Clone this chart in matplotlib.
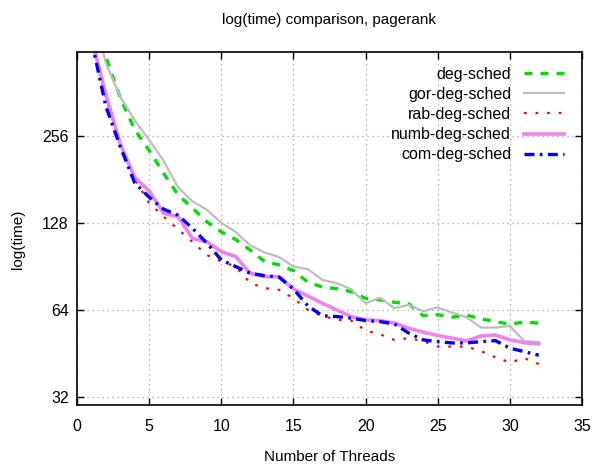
import matplotlib
matplotlib.use('Agg')
import matplotlib.pyplot as plt
from matplotlib.ticker import FixedLocator, NullLocator

plt.rcParams['font.family'] = ['Liberation Sans', 'DejaVu Sans']

threads = list(range(1, 33))

deg_sched = [680, 480, 347, 269, 228, 190, 160, 144, 129, 119, 112, 103, 94, 91.5, 87.5, 79.7,
             76.7, 75.7, 73.9, 70.1, 69.2, 67.9, 67, 61, 61.5, 60.3, 61.3, 59.5, 58.2, 57, 58, 57.5]
gor_deg_sched = [720, 458, 350, 290, 248, 210, 170, 152, 142, 128, 119, 107, 101, 97.5, 90.3, 88.4,
                 81.2, 79.1, 75.4, 67.4, 70.4, 64.8, 66.5, 63.2, 65.2, 62.5, 60.3, 55.5, 55.5, 56.2, 49.8, 49.5]
rab_deg_sched = [560, 347, 242, 181, 150, 134.5, 121.6, 110, 99, 94, 90.3, 79.2, 76, 75, 70.1, 63.9,
                 61, 59, 58.7, 54.2, 52.6, 50.3, 51, 49.8, 47.7, 47.7, 47.7, 46, 43.8, 42, 43.5, 41.5]
numb_deg_sched = [560, 356, 240, 184, 165, 138, 134.5, 113, 110, 101.8, 97.8, 85.6, 83.3, 83.3, 75.5, 71.4,
                  67.4, 63.9, 60.6, 59, 58.7, 57.5, 55.2, 53.5, 52.1, 51, 49.9, 51.9, 52.3, 50.3, 49.2, 48.7]
com_deg_sched = [550, 324, 235, 176, 157, 142.7, 136, 122.6, 108.8, 95.2, 90.3, 85.6, 84, 83, 75.5, 66,
                 61, 60.6, 59.8, 58.7, 58.2, 57.1, 53.1, 50.3, 49.6, 49.1, 49.1, 49.6, 50, 47.1, 45.8, 44.5]

xticks = [0, 5, 10, 15, 20, 25, 30, 35]
yticks = [32, 64, 128, 256]

fig = plt.figure(figsize=(5.95, 4.73), dpi=100)
ax = fig.add_axes([77/595, 1 - 404.7/473, 505/595, 352.7/473])

ax.set_yscale('log', base=2)
ax.set_xlim(0, 35)
ax.set_ylim(30.0, 500)

# same drawing order as gnuplot, blue ends on top
ax.plot(threads, deg_sched, color='#00e000', lw=2.4, linestyle=(0, (2.4, 2.4)), label='deg-sched')
ax.plot(threads, gor_deg_sched, color='#bebebe', lw=1.6, label='gor-deg-sched')
ax.plot(threads, rab_deg_sched, color='#ff0000', lw=1.6, linestyle=(0, (1.2, 4.0)), label='rab-deg-sched')
ax.plot(threads, numb_deg_sched, color='#ee82ee', lw=2.6, label='numb-deg-sched')
ax.plot(threads, com_deg_sched, color='#0000ff', lw=2.4, linestyle=(0, (3, 1.6, 0.8, 1.6)), label='com-deg-sched')

ax.xaxis.set_major_locator(FixedLocator(xticks))
ax.yaxis.set_major_locator(FixedLocator(yticks))
ax.yaxis.set_minor_locator(NullLocator())
ax.set_yticklabels([str(v) for v in yticks])
ax.set_xticklabels([str(v) for v in xticks])

ax.tick_params(direction='in', length=5, width=1, top=True, right=True, labelsize=11.5)
ax.tick_params(axis='x', pad=10)
ax.tick_params(axis='y', pad=6)
ax.grid(True, color='#a0a0a0', linestyle=(0, (1, 3)), lw=0.9)
for s in ax.spines.values():
    s.set_linewidth(1.2)

ax.set_xlabel('Number of Threads', fontsize=11, va='center')
ax.xaxis.set_label_coords(0.5, -0.148)
ax.set_ylabel('log(time)', fontsize=11, va='center')
ax.yaxis.set_label_coords(-0.117, 0.47)
fig.text(329.5/595, 1 - 20/473, 'log(time) comparison, pagerank', ha='center', va='center', fontsize=11)

leg = ax.legend(loc='upper right', bbox_to_anchor=(0.964, 0.958), frameon=False, markerfirst=False,
                fontsize=11.5, handlelength=2.5, handletextpad=0.8, labelspacing=0.32,
                borderpad=0, borderaxespad=0)

plt.savefig('out.png', dpi=100)
